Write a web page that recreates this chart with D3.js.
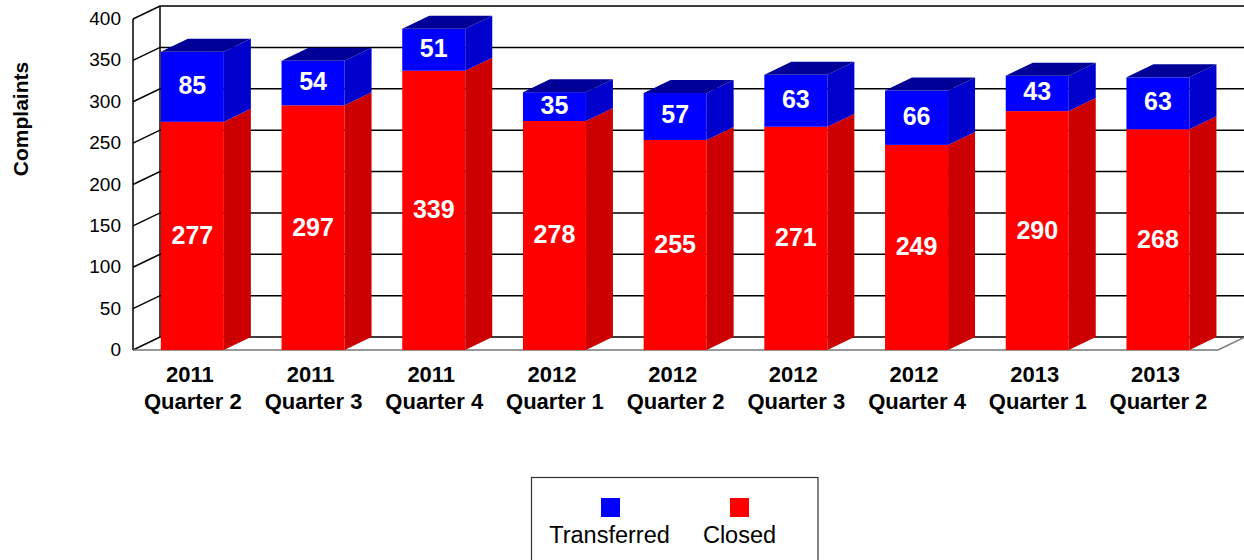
<!DOCTYPE html>
<html><head><meta charset="utf-8">
<script src="https://cdn.jsdelivr.net/npm/d3@7"></script>
<style>html,body{margin:0;padding:0;background:#fff;overflow:hidden}svg{display:block}text{font-family:"Liberation Sans",Arial,sans-serif}</style>
</head><body><svg id="c" width="1244" height="560"></svg>
<script>
const years=["2011","2011","2011","2012","2012","2012","2012","2013","2013"];
const quarters=["Quarter 2","Quarter 3","Quarter 4","Quarter 1","Quarter 2","Quarter 3","Quarter 4","Quarter 1","Quarter 2"];
const closed=[277,297,339,278,255,271,249,290,268];
const transferred=[85,54,51,35,57,63,66,43,63];
const yTicks=[0,50,100,150,200,250,300,350,400];
const seriesNames=["Transferred","Closed"];
const seriesColors=["#0000ff","#ff0000"];
const sideColors=["#0000cc","#cc0000"];
const topColor="#000099";

const svg=d3.select("#c");
const dx=27,dy=-13;
const y=d3.scaleLinear().domain([0,400]).range([350,19]);
const yBar=d3.scaleLinear().domain([0,400]).range([350,20.5]);
const x=d3.scaleBand().domain(d3.range(closed.length)).range([132,1218.3]).paddingInner(0.478).paddingOuter(0.239);
const w=1244;

const g=svg.append("g").attr("stroke","#000").attr("stroke-width",1.5).attr("fill","none");
yTicks.forEach(t=>{
  const py=y(t);
  g.append("path").attr("d",`M133,${py}L${133+dx},${py+dy}L${w},${py+dy}`);
});
g.append("path").attr("d",`M133,${y(0)}V${y(400)}`);
g.append("path").attr("d",`M${133+dx},${y(0)+dy}V${y(400)+dy}`);
g.append("path").attr("d",`M133,${y(0)}H1218L${1218+dx},${y(0)+dy}`).attr("stroke","#777");

function box(px,bw,y0,y1,i,drawTop){
  svg.append("rect").attr("x",px).attr("y",y1).attr("width",bw).attr("height",y0-y1).attr("fill",seriesColors[i]);
  svg.append("path").attr("d",`M${px+bw},${y0}L${px+bw+dx},${y0+dy}V${y1+dy}L${px+bw},${y1}Z`).attr("fill",sideColors[i]);
  if(drawTop) svg.append("path").attr("d",`M${px},${y1}L${px+dx},${y1+dy}H${px+bw+dx}L${px+bw},${y1}Z`).attr("fill",topColor);
}
closed.forEach((c,k)=>{
  const px=x(k),bw=x.bandwidth(),t=transferred[k];
  box(px,bw,yBar(0),yBar(c),1,false);
  box(px,bw,yBar(c),yBar(c+t),0,true);
  svg.append("text").attr("x",px+bw/2-2.5).attr("y",382).attr("text-anchor","middle").attr("font-weight","bold").attr("font-size",22).attr("fill","#000").text(years[k]);
  svg.append("text").attr("x",px+bw/2+0.5).attr("y",409).attr("text-anchor","middle").attr("font-weight","bold").attr("font-size",22).attr("fill","#000").text(quarters[k]);
});
const lab=svg.append("g").attr("fill","#fff").attr("font-weight","bold").attr("font-size",25).attr("text-anchor","middle");
closed.forEach((c,k)=>{
  const px=x(k),bw=x.bandwidth(),t=transferred[k];
  lab.append("text").attr("x",px+bw/2).attr("y",yBar(c/2)+8).text(c);
  lab.append("text").attr("x",px+bw/2).attr("y",yBar(c+t/2)+7).text(t);
});
yTicks.forEach(t=>{
  svg.append("text").attr("x",121).attr("y",y(t)+6).attr("text-anchor","end").attr("font-size",19).attr("fill","#000").text(t);
});
svg.append("text").attr("transform","translate(28,119) rotate(-90)").attr("text-anchor","middle").attr("font-weight","bold").attr("font-size",21).text("Complaints");
svg.append("rect").attr("x",531.5).attr("y",477.5).attr("width",286.5).attr("height",100).attr("fill","#fff").attr("stroke","#333").attr("stroke-width",1.2);
const lx=[610.5,739.5];
const ltx=[609.5,739.5];
seriesNames.forEach((n,i)=>{
  svg.append("rect").attr("x",lx[i]-9.5).attr("y",498).attr("width",19).attr("height",19).attr("fill",seriesColors[i]);
  svg.append("text").attr("x",ltx[i]).attr("y",543).attr("text-anchor","middle").attr("font-size",23.5).attr("fill","#000").text(n);
});
</script></body></html>
